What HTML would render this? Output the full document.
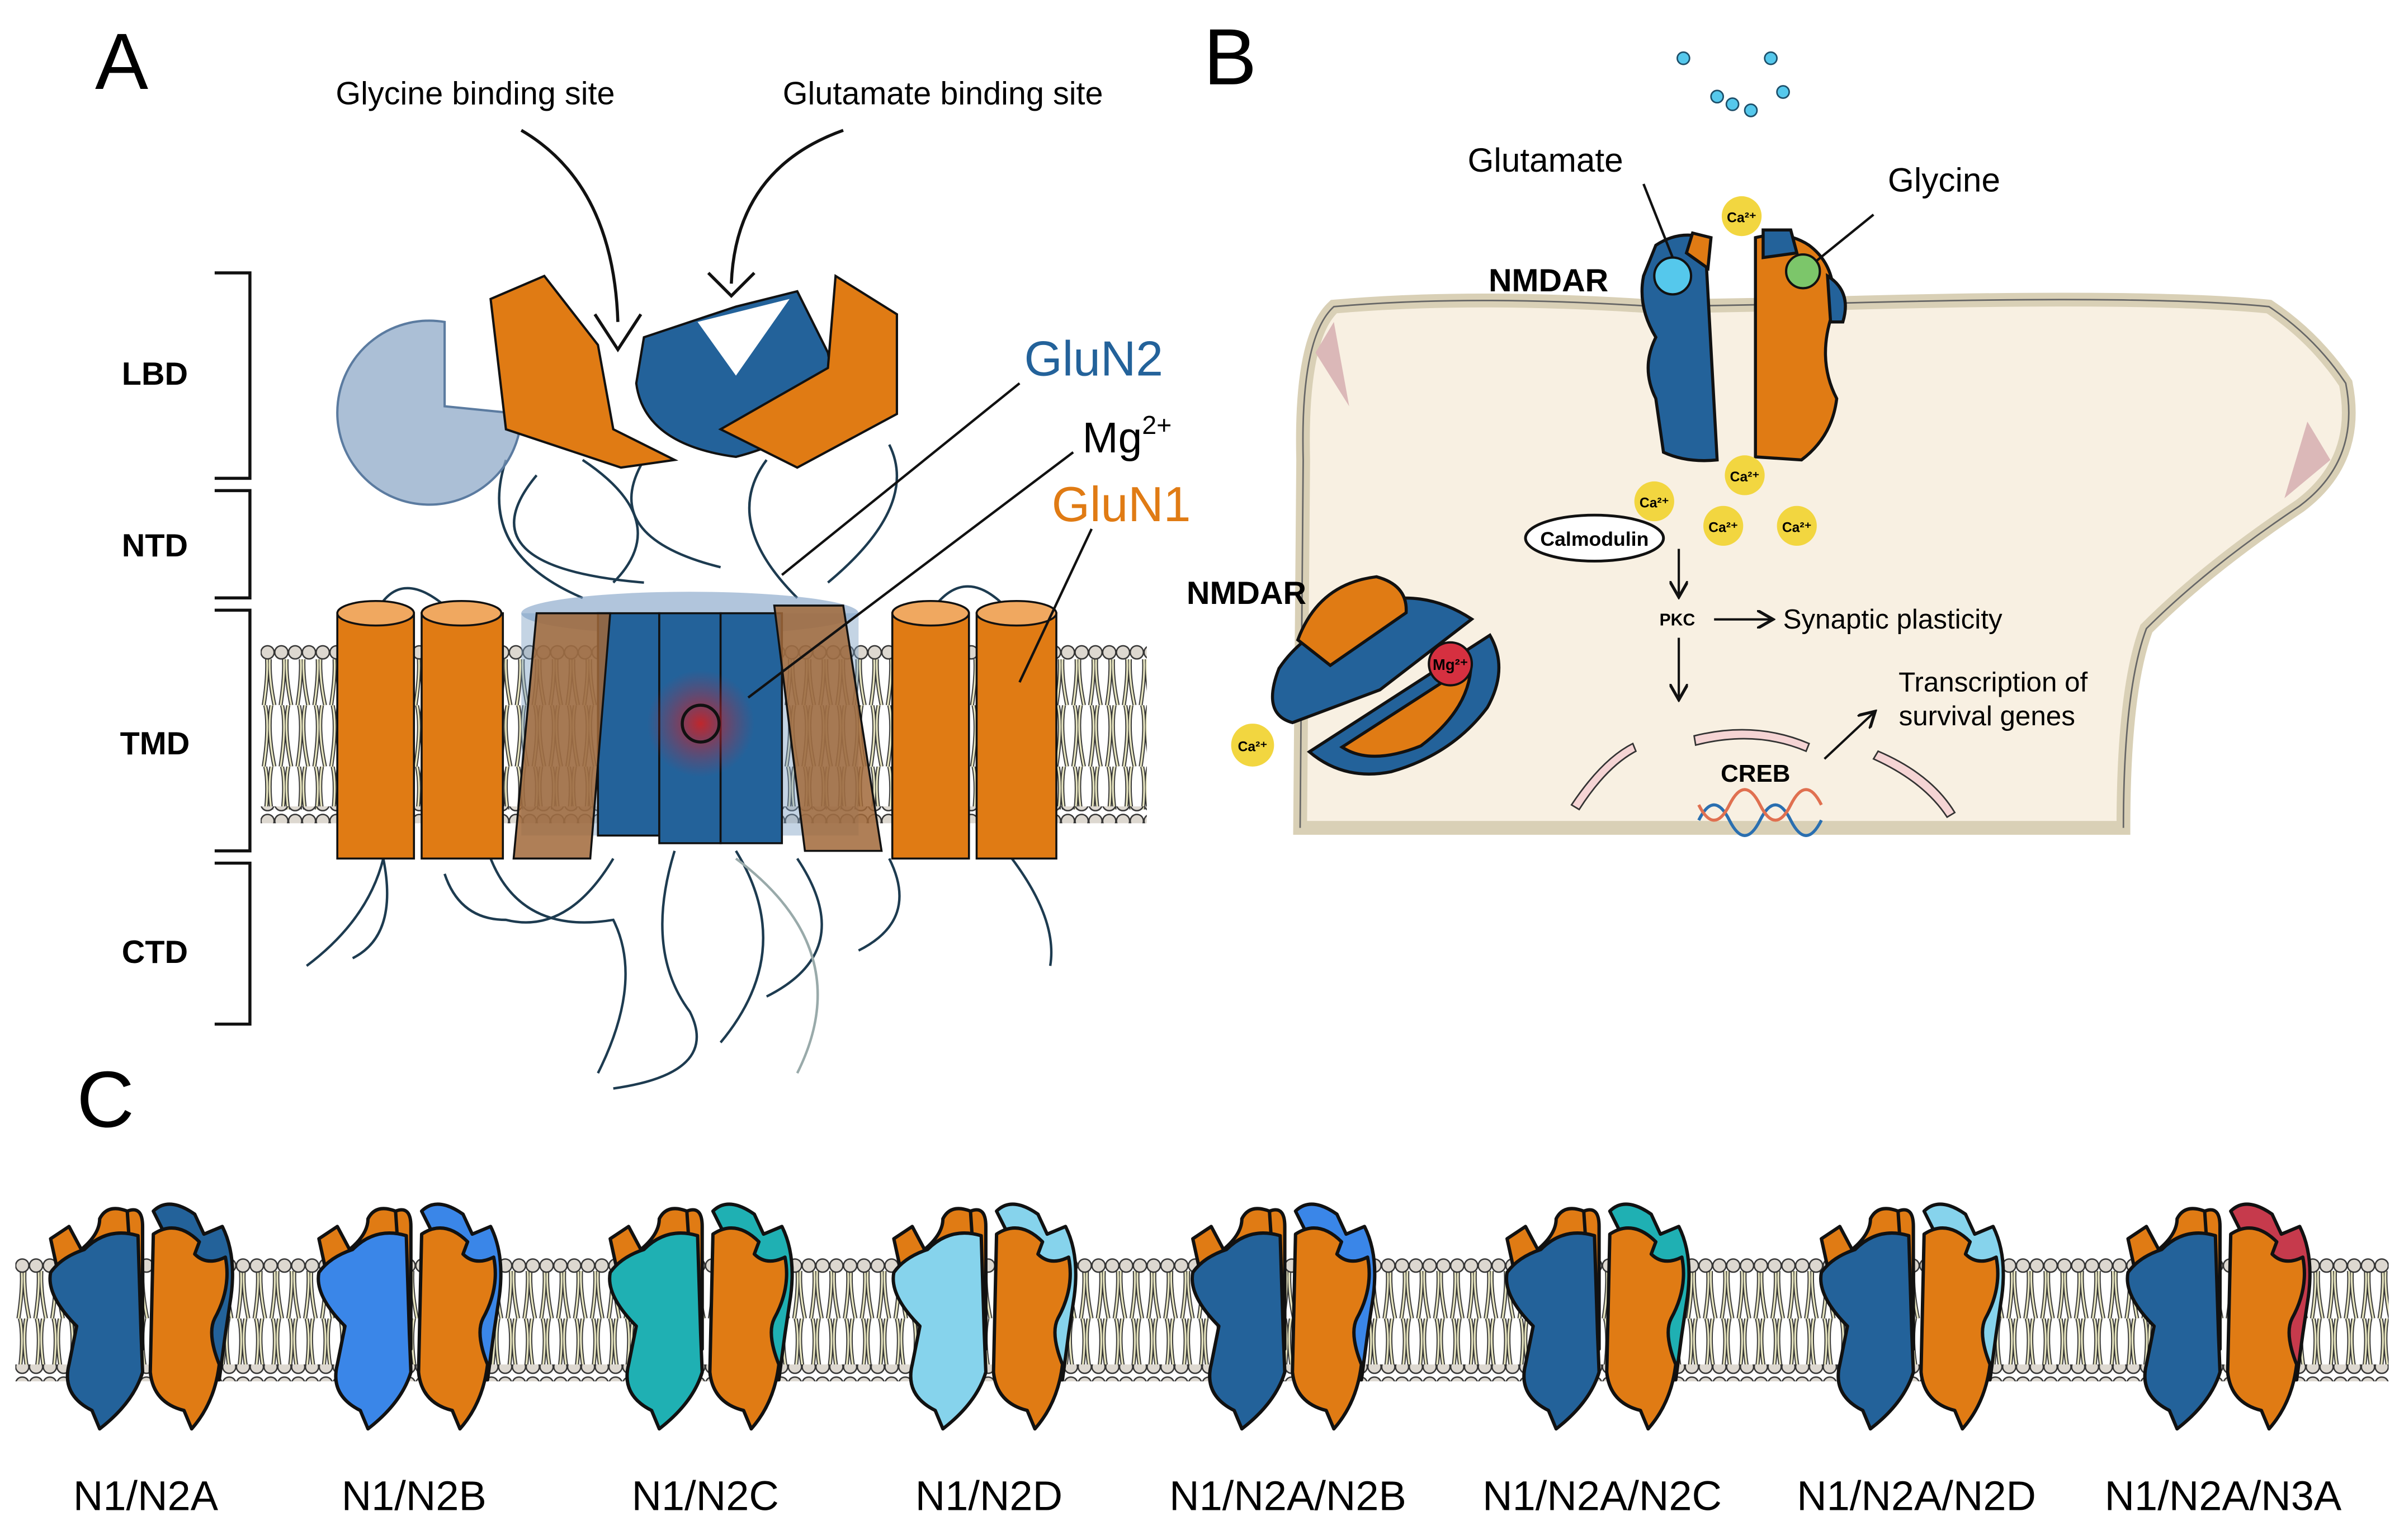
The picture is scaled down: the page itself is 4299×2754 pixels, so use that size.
<!DOCTYPE html>
<html><head><meta charset="utf-8"><style>html,body{margin:0;padding:0;background:#fff}svg{display:block}</style></head>
<body>
<svg width="4299" height="2754" viewBox="0 0 1568 1004.5" xmlns="http://www.w3.org/2000/svg" font-family="Liberation Sans, sans-serif">
<defs>
<pattern id="heads" x="0" y="0" width="9" height="11" patternUnits="userSpaceOnUse">
<circle cx="4.5" cy="5.5" r="4.3" fill="#ddd8d0" stroke="#333" stroke-width="0.9"/>
</pattern>
<pattern id="tails" x="0" y="0" width="11" height="40" patternUnits="userSpaceOnUse">
<path d="M3 0 q3 14 -1 40 M7 0 q-3 16 2 40" stroke="#333" stroke-width="2.6" fill="none"/>
<path d="M3 0 q3 14 -1 40 M7 0 q-3 16 2 40" stroke="#e8e6c0" stroke-width="1.2" fill="none"/>
</pattern>
<marker id="ar" markerWidth="8" markerHeight="8" refX="6" refY="4" orient="auto"><path d="M0 0 L7 4 L0 8" fill="none" stroke="#111" stroke-width="1.3"/></marker>
<radialGradient id="mg"><stop offset="0" stop-color="#d02020" stop-opacity=".9"/><stop offset="1" stop-color="#a03050" stop-opacity="0"/></radialGradient>
</defs>

<!-- ===== Panel A ===== -->
<text x="62" y="58" font-size="52">A</text>
<text x="310" y="68" font-size="21" text-anchor="middle">Glycine binding site</text>
<text x="615" y="68" font-size="21" text-anchor="middle">Glutamate binding site</text>
<path d="M340 85 Q400 120 403 210" stroke="#111" stroke-width="2" fill="none"/>
<path d="M388 205 L403 228 L418 205" stroke="#111" stroke-width="2" fill="none"/>
<path d="M550 85 Q480 110 477 185" stroke="#111" stroke-width="2" fill="none"/>
<path d="M462 178 L477 193 L492 178" stroke="#111" stroke-width="2" fill="none"/>
<g stroke="#111" stroke-width="2" fill="none">
<path d="M140 178 H163 V312 H140"/><path d="M140 320 H163 V390 H140"/><path d="M140 398 H163 V555 H140"/><path d="M140 563 H163 V668 H140"/>
</g>
<g font-size="21" font-weight="bold" text-anchor="middle"><text x="101" y="251">LBD</text><text x="101" y="363">NTD</text><text x="101" y="492">TMD</text><text x="101" y="628">CTD</text></g>
<g transform="translate(170 420)">
<rect x="0" y="10" width="578" height="52" fill="url(#tails)"/>
<rect x="0" y="62" width="578" height="46" fill="url(#tails)"/>
<rect x="0" y="0" width="578" height="11" fill="url(#heads)"/>
<rect x="0" y="106" width="578" height="11" fill="url(#heads)"/>
</g>
<!-- loops -->
<g stroke="#1d3b50" stroke-width="1.6" fill="none">
<path d="M330 300 Q310 360 380 390"/><path d="M350 310 Q300 370 420 380"/><path d="M580 290 Q600 330 540 380"/>
<path d="M500 300 Q470 340 520 390"/><path d="M380 300 Q440 340 400 380"/><path d="M420 300 Q390 350 470 370"/>
<path d="M245 400 Q260 370 290 395"/><path d="M610 395 Q630 370 655 395"/>
<path d="M250 560 Q240 600 200 630"/><path d="M250 560 Q260 610 230 625"/><path d="M660 560 Q690 600 685 630"/>
<path d="M320 560 Q340 610 400 600 Q420 640 390 700"/><path d="M440 555 Q420 620 450 660 Q470 700 400 710"/>
<path d="M480 555 Q520 620 470 680"/><path d="M520 560 Q560 620 500 650"/><path d="M580 560 Q600 600 560 620"/>
<path d="M400 560 Q370 610 330 600 Q300 600 290 570"/>
</g>
<path d="M480 560 Q560 620 520 700" stroke="#9aa" stroke-width="1.6" fill="none"/>
<!-- LBD shapes -->
<path d="M290 210 A60 60 0 1 0 340 270 L290 265 Z" fill="#8fa9c8" fill-opacity=".75" stroke="#5b7ba0" stroke-width="1.5"/>
<path d="M320 195 L355 180 L390 225 L400 280 L440 300 L405 305 L330 280 Z" fill="#e07b14" stroke="#111" stroke-width="1.5"/>
<path d="M420 220 L480 200 L520 190 L540 230 Q550 280 480 298 Q420 290 415 250 Z" fill="#23629a" stroke="#111" stroke-width="1.5"/>
<path d="M455 210 L480 245 L515 195 Z" fill="#fff"/>
<path d="M545 180 L585 205 L585 270 L520 305 L470 280 L540 240 Z" fill="#e07b14" stroke="#111" stroke-width="1.5"/>
<!-- TMD blue cylinder group -->
<ellipse cx="450" cy="400" rx="110" ry="14" fill="#7d9fc4" fill-opacity=".6"/>
<rect x="340" y="400" width="220" height="145" fill="#7d9fc4" fill-opacity=".45"/>
<g fill="#23629a" stroke="#111" stroke-width="1.3">
<rect x="390" y="400" width="40" height="145"/><rect x="430" y="400" width="40" height="150"/><rect x="470" y="400" width="40" height="150"/>
</g>
<g fill="#a1683a" fill-opacity=".85" stroke="#111" stroke-width="1.3">
<path d="M350 400 L398 400 L385 560 L335 560 Z"/><path d="M505 395 L550 395 L575 555 L525 555 Z"/>
</g>
<circle cx="457" cy="472" r="35" fill="url(#mg)"/>
<circle cx="457" cy="472" r="12" fill="none" stroke="#111" stroke-width="2"/>
<g fill="#e07b14" stroke="#111" stroke-width="1.3">
<rect x="220" y="400" width="50" height="160"/><rect x="275" y="400" width="53" height="160"/>
<rect x="582" y="400" width="50" height="160"/><rect x="637" y="400" width="52" height="160"/>
</g>
<g fill="#f0a860" stroke="#111" stroke-width="1.3">
<ellipse cx="245" cy="400" rx="25" ry="8"/><ellipse cx="301" cy="400" rx="26" ry="8"/><ellipse cx="607" cy="400" rx="25" ry="8"/><ellipse cx="663" cy="400" rx="26" ry="8"/>
</g>
<g stroke="#111" stroke-width="1.6">
<line x1="510" y1="375" x2="665" y2="250"/><line x1="488" y1="455" x2="700" y2="295"/><line x1="665" y1="445" x2="712" y2="345"/>
</g>
<text x="668" y="245" font-size="32" fill="#23629a">GluN2</text>
<text x="706" y="295" font-size="28">Mg<tspan font-size="17" dy="-12">2+</tspan></text>
<text x="686" y="340" font-size="32" fill="#e07b14">GluN1</text>

<!-- ===== Panel B ===== -->
<text x="785" y="55" font-size="52">B</text>
<g fill="#55c8ec" stroke="#1d4f6a" stroke-width="1"><circle cx="1098" cy="38" r="4"/><circle cx="1155" cy="38" r="4"/><circle cx="1120" cy="63" r="4"/><circle cx="1130" cy="68" r="4"/><circle cx="1142" cy="72" r="4"/><circle cx="1163" cy="60" r="4"/></g>
<path d="M848 540 L850 300 Q848 220 870 200 Q960 192 1080 200 L1190 198 Q1400 192 1480 200 Q1510 220 1530 250 Q1540 300 1500 330 Q1440 370 1400 410 Q1385 450 1385 540 Z" fill="#f8f0e2" stroke="#d9d0b6" stroke-width="9"/>
<path d="M848 540 L850 300 Q848 220 870 200 Q960 192 1080 200 L1190 198 Q1400 192 1480 200 Q1510 220 1530 250 Q1540 300 1500 330 Q1440 370 1400 410 Q1385 450 1385 540" fill="none" stroke="#666" stroke-width="1"/>
<path d="M858 230 L870 210 L880 265 Z" fill="#dbb8b8"/>
<path d="M1505 275 L1520 300 L1490 325 Z" fill="#dbb8b8"/>
<!-- top NMDAR -->
<g stroke="#111" stroke-width="2">
<path d="M1080 160 Q1095 150 1112 155 L1120 300 Q1100 302 1085 295 L1080 260 Q1070 240 1080 220 Q1068 200 1072 180 Z" fill="#23629a"/>
<path d="M1100 165 L1104 152 L1116 155 L1114 175 Z" fill="#e07b14"/>
<path d="M1145 155 Q1165 150 1180 160 Q1200 175 1195 205 Q1185 235 1198 260 Q1195 285 1175 300 L1145 298 Z" fill="#e07b14"/>
<path d="M1150 150 L1168 150 L1172 165 L1150 168 Z" fill="#23629a"/>
<path d="M1192 180 Q1208 190 1202 210 L1194 210 Z" fill="#23629a"/>
</g>
<circle cx="1091" cy="180" r="12" fill="#55c8ec" stroke="#111" stroke-width="1.5"/>
<circle cx="1176" cy="177" r="11" fill="#7cc66a" stroke="#111" stroke-width="1.5"/>
<line x1="1091" y1="168" x2="1072" y2="120" stroke="#111" stroke-width="1.6"/>
<line x1="1185" y1="170" x2="1222" y2="140" stroke="#111" stroke-width="1.6"/>
<text x="1008" y="112" font-size="22" text-anchor="middle">Glutamate</text>
<text x="1268" y="125" font-size="22" text-anchor="middle">Glycine</text>
<text x="1010" y="190" font-size="21" font-weight="bold" text-anchor="middle">NMDAR</text>
<g font-size="9" font-weight="bold" text-anchor="middle">
<circle cx="1136" cy="141" r="13" fill="#f2d640"/><text x="1136" y="145">Ca²⁺</text>
<circle cx="1138" cy="310" r="13" fill="#f2d640"/><text x="1138" y="314">Ca²⁺</text>
<circle cx="1079" cy="327" r="13" fill="#f2d640"/><text x="1079" y="331">Ca²⁺</text>
<circle cx="1124" cy="343" r="13" fill="#f2d640"/><text x="1124" y="347">Ca²⁺</text>
<circle cx="1172" cy="343" r="13" fill="#f2d640"/><text x="1172" y="347">Ca²⁺</text>
<circle cx="817" cy="486" r="14" fill="#f2d640"/><text x="817" y="490">Ca²⁺</text>
</g>
<ellipse cx="1040" cy="351" rx="45" ry="15" fill="#fff" stroke="#111" stroke-width="1.8"/>
<text x="1040" y="356" font-size="13" font-weight="bold" text-anchor="middle">Calmodulin</text>
<line x1="1095" y1="358" x2="1095" y2="388" stroke="#111" stroke-width="1.5" marker-end="url(#ar)"/>
<text x="1094" y="408" font-size="11" font-weight="bold" text-anchor="middle">PKC</text>
<line x1="1118" y1="404" x2="1155" y2="404" stroke="#111" stroke-width="1.5" marker-end="url(#ar)"/>
<text x="1163" y="410" font-size="18">Synaptic plasticity</text>
<line x1="1095" y1="416" x2="1095" y2="455" stroke="#111" stroke-width="1.5" marker-end="url(#ar)"/>
<line x1="1190" y1="495" x2="1222" y2="465" stroke="#111" stroke-width="1.5" marker-end="url(#ar)"/>
<text x="1300" y="451" font-size="18" text-anchor="middle">Transcription of</text>
<text x="1296" y="473" font-size="18" text-anchor="middle">survival genes</text>
<g stroke="#333" stroke-width="1" fill="#f5d4d4"><path d="M1025 525 Q1045 495 1065 485 L1067 490 Q1048 500 1030 528 Z"/><path d="M1105 480 Q1145 470 1180 485 L1178 490 Q1145 476 1106 486 Z"/><path d="M1225 490 Q1260 505 1275 530 L1270 533 Q1255 510 1222 495 Z"/></g>
<text x="1145" y="510" font-size="16" font-weight="bold" text-anchor="middle">CREB</text>
<path d="M1108 535 q10 -20 20 0 t20 0 t20 0 t20 0" stroke="#2a6fb0" stroke-width="2" fill="none"/>
<path d="M1108 525 q10 20 20 0 t20 0 t20 0 t20 0" stroke="#e07050" stroke-width="2" fill="none"/>
<!-- bottom-left NMDAR -->
<g stroke="#111" stroke-width="2" transform="rotate(-30 900 450)">
<path d="M850 405 Q880 390 930 400 Q960 410 975 440 L900 450 L840 440 Q825 425 850 405 Z" fill="#23629a"/>
<path d="M870 395 Q900 370 935 385 Q950 400 940 415 L880 420 Z" fill="#e07b14"/>
<path d="M840 462 L980 455 Q980 480 955 495 Q920 510 880 500 Q850 490 840 462 Z" fill="#23629a"/>
<path d="M860 470 L960 465 Q945 490 905 495 Q870 490 860 470 Z" fill="#e07b14"/>
</g>
<circle cx="946" cy="433" r="14" fill="#d63040" stroke="#111" stroke-width="1.5"/>
<text x="946" y="437" font-size="10" font-weight="bold" text-anchor="middle">Mg²⁺</text>
<text x="813" y="394" font-size="21" font-weight="bold" text-anchor="middle">NMDAR</text>

<!-- ===== Panel C ===== -->
<text x="50" y="735" font-size="52">C</text>
<g transform="translate(10 820)">
<rect x="0" y="9" width="1548" height="33" fill="url(#tails)"/>
<rect x="0" y="40" width="1548" height="33" fill="url(#tails)"/>
<rect x="0" y="0" width="1548" height="11" fill="url(#heads)"/>
<rect x="0" y="70" width="1548" height="11" fill="url(#heads)"/>
</g>
<g font-size="27" text-anchor="middle">
<text x="95" y="985">N1/N2A</text><text x="270" y="985">N1/N2B</text><text x="460" y="985">N1/N2C</text><text x="645" y="985">N1/N2D</text>
<text x="840" y="985">N1/N2A/N2B</text><text x="1045" y="985">N1/N2A/N2C</text><text x="1250" y="985">N1/N2A/N2D</text><text x="1450" y="985">N1/N2A/N3A</text>
</g>
<g stroke="#111" stroke-width="2.2" stroke-linejoin="round">
<g transform="translate(95 0)"><path d="M-12 790 Q-2 786 -2 800 L-2 880 L-12 870 Z" fill="#e07b14"/><path d="M-62 808 L-50 800 L-42 815 Q-30 805 -30 795 Q-25 785 -12 790 L-10 820 L-55 840 Z" fill="#e07b14"/><path d="M-40 815 Q-25 800 -5 806 L-3 870 L-2 895 Q-8 915 -30 932 L-35 920 Q-55 910 -50 890 L-45 865 Q-65 845 -62 830 Q-55 820 -40 815 Z" fill="#23629a"/><path d="M5 790 Q15 780 32 792 L38 805 L50 800 Q60 820 55 850 L52 870 L48 900 L35 900 L30 840 Z" fill="#23629a"/><path d="M5 805 Q20 795 35 810 L32 818 Q40 826 52 820 Q56 840 45 860 Q40 870 48 890 Q45 915 30 932 L25 920 Q5 915 3 895 Z" fill="#e07b14"/></g>
<g transform="translate(270 0)"><path d="M-12 790 Q-2 786 -2 800 L-2 880 L-12 870 Z" fill="#e07b14"/><path d="M-62 808 L-50 800 L-42 815 Q-30 805 -30 795 Q-25 785 -12 790 L-10 820 L-55 840 Z" fill="#e07b14"/><path d="M-40 815 Q-25 800 -5 806 L-3 870 L-2 895 Q-8 915 -30 932 L-35 920 Q-55 910 -50 890 L-45 865 Q-65 845 -62 830 Q-55 820 -40 815 Z" fill="#3a86e8"/><path d="M5 790 Q15 780 32 792 L38 805 L50 800 Q60 820 55 850 L52 870 L48 900 L35 900 L30 840 Z" fill="#3a86e8"/><path d="M5 805 Q20 795 35 810 L32 818 Q40 826 52 820 Q56 840 45 860 Q40 870 48 890 Q45 915 30 932 L25 920 Q5 915 3 895 Z" fill="#e07b14"/></g>
<g transform="translate(460 0)"><path d="M-12 790 Q-2 786 -2 800 L-2 880 L-12 870 Z" fill="#e07b14"/><path d="M-62 808 L-50 800 L-42 815 Q-30 805 -30 795 Q-25 785 -12 790 L-10 820 L-55 840 Z" fill="#e07b14"/><path d="M-40 815 Q-25 800 -5 806 L-3 870 L-2 895 Q-8 915 -30 932 L-35 920 Q-55 910 -50 890 L-45 865 Q-65 845 -62 830 Q-55 820 -40 815 Z" fill="#1fb0b3"/><path d="M5 790 Q15 780 32 792 L38 805 L50 800 Q60 820 55 850 L52 870 L48 900 L35 900 L30 840 Z" fill="#1fb0b3"/><path d="M5 805 Q20 795 35 810 L32 818 Q40 826 52 820 Q56 840 45 860 Q40 870 48 890 Q45 915 30 932 L25 920 Q5 915 3 895 Z" fill="#e07b14"/></g>
<g transform="translate(645 0)"><path d="M-12 790 Q-2 786 -2 800 L-2 880 L-12 870 Z" fill="#e07b14"/><path d="M-62 808 L-50 800 L-42 815 Q-30 805 -30 795 Q-25 785 -12 790 L-10 820 L-55 840 Z" fill="#e07b14"/><path d="M-40 815 Q-25 800 -5 806 L-3 870 L-2 895 Q-8 915 -30 932 L-35 920 Q-55 910 -50 890 L-45 865 Q-65 845 -62 830 Q-55 820 -40 815 Z" fill="#86d3ec"/><path d="M5 790 Q15 780 32 792 L38 805 L50 800 Q60 820 55 850 L52 870 L48 900 L35 900 L30 840 Z" fill="#86d3ec"/><path d="M5 805 Q20 795 35 810 L32 818 Q40 826 52 820 Q56 840 45 860 Q40 870 48 890 Q45 915 30 932 L25 920 Q5 915 3 895 Z" fill="#e07b14"/></g>
<g transform="translate(840 0)"><path d="M-12 790 Q-2 786 -2 800 L-2 880 L-12 870 Z" fill="#e07b14"/><path d="M-62 808 L-50 800 L-42 815 Q-30 805 -30 795 Q-25 785 -12 790 L-10 820 L-55 840 Z" fill="#e07b14"/><path d="M-40 815 Q-25 800 -5 806 L-3 870 L-2 895 Q-8 915 -30 932 L-35 920 Q-55 910 -50 890 L-45 865 Q-65 845 -62 830 Q-55 820 -40 815 Z" fill="#23629a"/><path d="M5 790 Q15 780 32 792 L38 805 L50 800 Q60 820 55 850 L52 870 L48 900 L35 900 L30 840 Z" fill="#3a86e8"/><path d="M5 805 Q20 795 35 810 L32 818 Q40 826 52 820 Q56 840 45 860 Q40 870 48 890 Q45 915 30 932 L25 920 Q5 915 3 895 Z" fill="#e07b14"/></g>
<g transform="translate(1045 0)"><path d="M-12 790 Q-2 786 -2 800 L-2 880 L-12 870 Z" fill="#e07b14"/><path d="M-62 808 L-50 800 L-42 815 Q-30 805 -30 795 Q-25 785 -12 790 L-10 820 L-55 840 Z" fill="#e07b14"/><path d="M-40 815 Q-25 800 -5 806 L-3 870 L-2 895 Q-8 915 -30 932 L-35 920 Q-55 910 -50 890 L-45 865 Q-65 845 -62 830 Q-55 820 -40 815 Z" fill="#23629a"/><path d="M5 790 Q15 780 32 792 L38 805 L50 800 Q60 820 55 850 L52 870 L48 900 L35 900 L30 840 Z" fill="#1fb0b3"/><path d="M5 805 Q20 795 35 810 L32 818 Q40 826 52 820 Q56 840 45 860 Q40 870 48 890 Q45 915 30 932 L25 920 Q5 915 3 895 Z" fill="#e07b14"/></g>
<g transform="translate(1250 0)"><path d="M-12 790 Q-2 786 -2 800 L-2 880 L-12 870 Z" fill="#e07b14"/><path d="M-62 808 L-50 800 L-42 815 Q-30 805 -30 795 Q-25 785 -12 790 L-10 820 L-55 840 Z" fill="#e07b14"/><path d="M-40 815 Q-25 800 -5 806 L-3 870 L-2 895 Q-8 915 -30 932 L-35 920 Q-55 910 -50 890 L-45 865 Q-65 845 -62 830 Q-55 820 -40 815 Z" fill="#23629a"/><path d="M5 790 Q15 780 32 792 L38 805 L50 800 Q60 820 55 850 L52 870 L48 900 L35 900 L30 840 Z" fill="#86d3ec"/><path d="M5 805 Q20 795 35 810 L32 818 Q40 826 52 820 Q56 840 45 860 Q40 870 48 890 Q45 915 30 932 L25 920 Q5 915 3 895 Z" fill="#e07b14"/></g>
<g transform="translate(1450 0)"><path d="M-12 790 Q-2 786 -2 800 L-2 880 L-12 870 Z" fill="#e07b14"/><path d="M-62 808 L-50 800 L-42 815 Q-30 805 -30 795 Q-25 785 -12 790 L-10 820 L-55 840 Z" fill="#e07b14"/><path d="M-40 815 Q-25 800 -5 806 L-3 870 L-2 895 Q-8 915 -30 932 L-35 920 Q-55 910 -50 890 L-45 865 Q-65 845 -62 830 Q-55 820 -40 815 Z" fill="#23629a"/><path d="M5 790 Q15 780 32 792 L38 805 L50 800 Q60 820 55 850 L52 870 L48 900 L35 900 L30 840 Z" fill="#c63a4c"/><path d="M5 805 Q20 795 35 810 L32 818 Q40 826 52 820 Q56 840 45 860 Q40 870 48 890 Q45 915 30 932 L25 920 Q5 915 3 895 Z" fill="#e07b14"/></g>
</g>
</svg>
</body></html>
